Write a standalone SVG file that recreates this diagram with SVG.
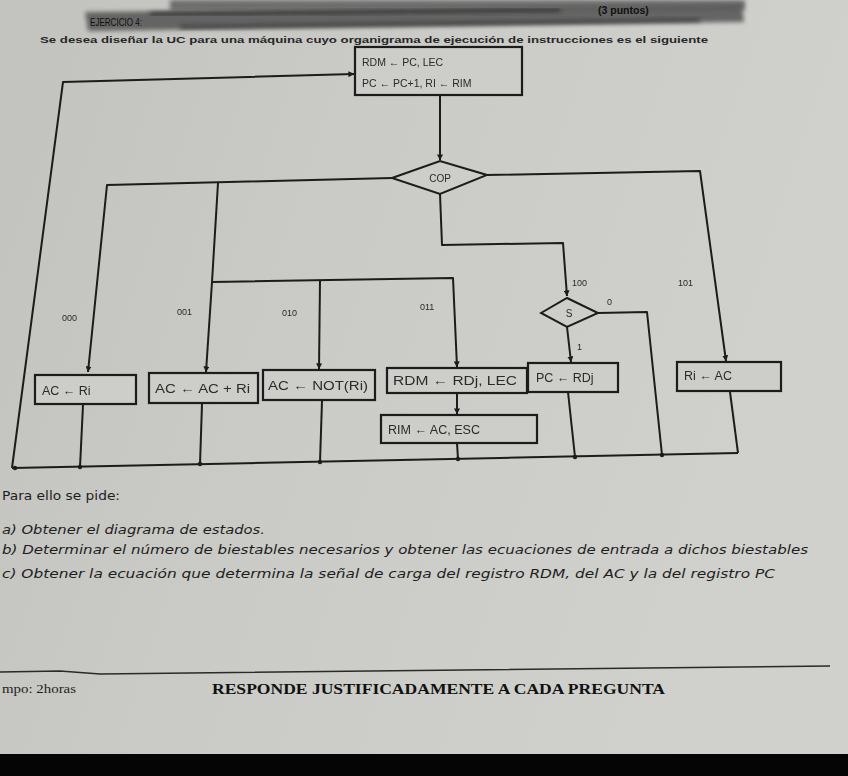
<svg xmlns="http://www.w3.org/2000/svg" width="848" height="776" viewBox="0 0 848 776">
<defs>
<filter id="blur" x="-5%" y="-50%" width="110%" height="200%"><feGaussianBlur stdDeviation="2"/></filter>
<filter id="soft"><feGaussianBlur stdDeviation="0.45"/></filter>
<linearGradient id="paper" x1="0" y1="0" x2="1" y2="0.3">
<stop offset="0" stop-color="#c2c2be"/>
<stop offset="0.5" stop-color="#cbcbc7"/>
<stop offset="1" stop-color="#d0d0cc"/>
</linearGradient>
<marker id="arr" viewBox="0 0 8 8" refX="7.5" refY="4" markerWidth="6" markerHeight="6" orient="auto" markerUnits="userSpaceOnUse">
<path d="M0,0 L8,4 L0,8 z" fill="#1c1c1c"/>
</marker>
<style>
.ln{fill:none;stroke:#1c1c1c;stroke-width:2;stroke-linejoin:round}
.bx{fill:#cdcdc9;stroke:#1c1c1c;stroke-width:2.2}
.dm{fill:#cdcdc9;stroke:#1c1c1c;stroke-width:2}
.t{font-family:"Liberation Sans",Arial,sans-serif;fill:#2a2a2a;font-size:12.5px}
.ts{font-family:"Liberation Sans",Arial,sans-serif;fill:#2a2a2a;font-size:10.5px}
.lb{font-family:"Liberation Sans",Arial,sans-serif;fill:#2a2a2a;font-size:9px}
.q{font-family:"DejaVu Sans",sans-serif;font-style:italic;fill:#1e1e1e;font-size:12.5px}
.dot{fill:#1c1c1c}
</style>
</defs>
<rect width="848" height="776" fill="url(#paper)"/>

<!-- header (redacted area) -->
<g id="header">
<path d="M170,0 L745,0 L745,10 L170,11 z" fill="#5e5e5e" filter="url(#blur)" opacity="0.85"/>
<path d="M85,12 L742,4 L744,22 L88,31 z" fill="#5a5a5a" filter="url(#blur)" opacity="0.9"/>
<path d="M150,14 L560,10" stroke="#2e2e2e" stroke-width="3" filter="url(#blur)"/>
<path d="M180,27 L700,20" stroke="#3a3a3a" stroke-width="3" filter="url(#blur)"/>
<text x="598" y="14" class="ts" style="font-weight:bold;fill:#111">(3 puntos)</text>
<text x="90" y="26" class="ts" style="font-size:10.5px;fill:#111" textLength="52" lengthAdjust="spacingAndGlyphs">EJERCICIO 4:</text>
<text x="40" y="43" class="ts" style="font-size:9.5px;font-weight:bold;fill:#262626" textLength="668" lengthAdjust="spacingAndGlyphs">Se desea diseñar la UC para una máquina cuyo organigrama de ejecución de instrucciones es el siguiente</text>
</g>

<g id="connectors" filter="url(#soft)">
<!-- loop back to fetch box -->
<polyline class="ln" points="12,468 63,82 354,74" marker-end="url(#arr)"/>
<!-- fetch to COP -->
<line class="ln" x1="440" y1="96" x2="440" y2="160" marker-end="url(#arr)"/>
<!-- COP left: 000 / 001 -->
<polyline class="ln" points="392,178 107,185 88,372" marker-end="url(#arr)"/>
<polyline class="ln" points="218,183 212,282 206,372" marker-end="url(#arr)"/>
<!-- 010 / 011 -->
<polyline class="ln" points="212,282 453,278 457,367" marker-end="url(#arr)"/>
<line class="ln" x1="320" y1="281" x2="319" y2="369" marker-end="url(#arr)"/>
<!-- COP bottom to S -->
<polyline class="ln" points="440,194 442,245 563,243 567,296" marker-end="url(#arr)"/>
<!-- COP right 101 -->
<polyline class="ln" points="487,175 700,171 726,361" marker-end="url(#arr)"/>
<!-- S = 1 -->
<line class="ln" x1="567" y1="327" x2="571" y2="362" marker-end="url(#arr)"/>
<!-- S = 0 -->
<polyline class="ln" points="598,313 647,312 662,455"/>
<!-- RDM to RIM -->
<line class="ln" x1="457" y1="393" x2="457" y2="414" marker-end="url(#arr)"/>
<!-- boxes to bottom bus -->
<line class="ln" x1="83" y1="405" x2="80" y2="467"/>
<line class="ln" x1="202" y1="404" x2="200" y2="464"/>
<line class="ln" x1="322" y1="401" x2="320" y2="462"/>
<line class="ln" x1="457" y1="443" x2="458" y2="459"/>
<line class="ln" x1="568" y1="392" x2="575" y2="457"/>
<polyline class="ln" points="730,392 738,453"/>
<!-- bottom bus -->
<line class="ln" x1="12" y1="468" x2="738" y2="453"/>
<circle class="dot" cx="15" cy="468" r="2.2"/>
<circle class="dot" cx="80" cy="467" r="2.2"/>
<circle class="dot" cx="200" cy="464" r="2.2"/>
<circle class="dot" cx="320" cy="462" r="2.2"/>
<circle class="dot" cx="458" cy="459" r="2.2"/>
<circle class="dot" cx="575" cy="457" r="2.2"/>
<circle class="dot" cx="662" cy="455" r="2.2"/>
</g>

<g id="fetch" filter="url(#soft)">
<rect class="bx" x="355" y="47" width="167" height="48"/>
<text x="362" y="66" class="ts">RDM ← PC, LEC</text>
<text x="362" y="87" class="ts">PC ← PC+1, RI ← RIM</text>
</g>

<g id="cop" filter="url(#soft)">
<polygon class="dm" points="392,178 440,161 487,175 440,194"/>
<text x="440" y="182" class="lb" text-anchor="middle" style="font-size:10px">COP</text>
</g>

<g id="s" filter="url(#soft)">
<polygon class="dm" points="541,313 567,298 598,313 567,327"/>
<text x="569" y="317" class="lb" text-anchor="middle" style="font-size:10px">S</text>
</g>

<g id="labels" filter="url(#soft)">
<text x="62" y="321" class="lb">000</text>
<text x="177" y="315" class="lb">001</text>
<text x="282" y="316" class="lb">010</text>
<text x="420" y="310" class="lb">011</text>
<text x="572" y="286" class="lb">100</text>
<text x="678" y="286" class="lb">101</text>
<text x="607" y="305" class="lb">0</text>
<text x="577" y="350" class="lb">1</text>
</g>

<g id="n000" filter="url(#soft)">
<rect class="bx" x="35" y="375" width="101" height="29"/>
<text x="42" y="395" class="t">AC ← Ri</text>
</g>
<g id="n001" filter="url(#soft)">
<rect class="bx" x="149" y="373" width="109" height="30"/>
<text x="155" y="393" class="t" textLength="95" lengthAdjust="spacingAndGlyphs">AC ← AC + Ri</text>
</g>
<g id="n010" filter="url(#soft)">
<rect class="bx" x="263" y="370" width="112" height="30"/>
<text x="268" y="390" class="t" textLength="100" lengthAdjust="spacingAndGlyphs">AC ← NOT(Ri)</text>
</g>
<g id="n011" filter="url(#soft)">
<rect class="bx" x="387" y="368" width="140" height="25"/>
<text x="393" y="385" class="t" textLength="124" lengthAdjust="spacingAndGlyphs">RDM ← RDj, LEC</text>
</g>
<g id="n011b" filter="url(#soft)">
<rect class="bx" x="381" y="415" width="156" height="28"/>
<text x="388" y="434" class="t" textLength="92" lengthAdjust="spacingAndGlyphs">RIM ← AC, ESC</text>
</g>
<g id="n100" filter="url(#soft)">
<rect class="bx" x="528" y="363" width="90" height="29"/>
<text x="536" y="382" class="t">PC ← RDj</text>
</g>
<g id="n101" filter="url(#soft)">
<rect class="bx" x="677" y="362" width="104" height="29"/>
<text x="684" y="380" class="t">Ri ← AC</text>
</g>

<g id="questions">
<text x="2" y="500" class="q" style="font-style:normal" textLength="118" lengthAdjust="spacingAndGlyphs">Para ello se pide:</text>
<text x="2" y="534" class="q" textLength="263" lengthAdjust="spacingAndGlyphs">a)  Obtener el diagrama de estados.</text>
<text x="2" y="554" class="q" textLength="806" lengthAdjust="spacingAndGlyphs">b)  Determinar el número de biestables necesarios y obtener las ecuaciones de entrada a dichos biestables</text>
<text x="2" y="578" class="q" textLength="773" lengthAdjust="spacingAndGlyphs">c)  Obtener la ecuación que determina la señal de carga del registro RDM, del AC y la del registro PC</text>
</g>

<g id="footer">
<path d="M0,672 L60,671 L100,674 L830,666" fill="none" stroke="#2a2a2a" stroke-width="1.6"/>
<text x="2" y="693" style="font-family:'Liberation Serif',serif;font-size:13px;fill:#1e1e1e" textLength="74" lengthAdjust="spacingAndGlyphs">mpo: 2horas</text>
<text x="212" y="694" style="font-family:'Liberation Serif',serif;font-size:15px;font-weight:bold;fill:#111" textLength="453" lengthAdjust="spacingAndGlyphs">RESPONDE JUSTIFICADAMENTE A CADA PREGUNTA</text>
</g>
<rect x="0" y="754" width="848" height="22" fill="#050505"/>
</svg>
